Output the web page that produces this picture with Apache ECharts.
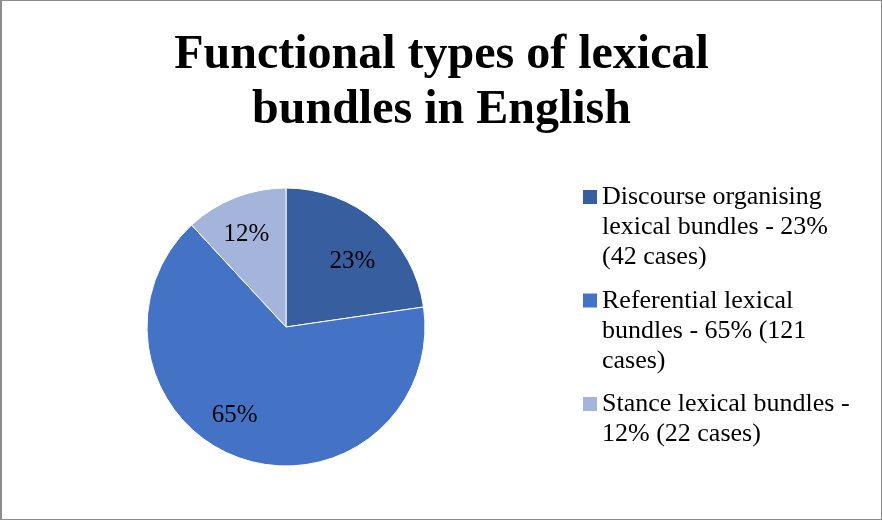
<!DOCTYPE html>
<html>
<head>
<meta charset="utf-8">
<script src="https://cdn.jsdelivr.net/npm/echarts@6/dist/echarts.min.js"></script>
<style>
html,body{margin:0;padding:0;background:#fff;}
#chart{position:absolute;left:0;top:0;width:882px;height:520px;box-sizing:border-box;border:1px solid #8c8c8c;border-left-width:2px;}
</style>
</head>
<body>
<div id="chart"></div>
<script>
var titleLines = ['Functional types of lexical', 'bundles in English'];
var categories = ['Discourse organising lexical bundles', 'Referential lexical bundles', 'Stance lexical bundles'];
var cases = [42, 121, 22];
var percents = [23, 65, 12];
var legendLabels = [
  'Discourse organising\nlexical bundles - 23%\n(42 cases)',
  'Referential lexical\nbundles - 65% (121\ncases)',
  'Stance lexical bundles -\n12% (22 cases)\n'
];
var colors = ['#375E9F', '#4472C4', '#A5B4DA'];
var labelOffsets = [[1, 10], [-18, -6], [-3, 1]];

var FONT = '"Liberation Serif","Times New Roman",serif';
// icon path: square aligned with first text line of a 90px-tall legend item
var iconPath = 'path://M0,0L0,0M0,7.5L14,7.5L14,21.5L0,21.5ZM14,90L14,90';

var data = categories.map(function (c, i) {
  return { name: c, value: cases[i], itemStyle: { color: colors[i] } };
});
var labelData = categories.map(function (c, i) {
  return { name: c, value: cases[i], label: { offset: labelOffsets[i] } };
});

var chart = echarts.init(document.getElementById('chart'), null, { renderer: 'canvas' });
chart.setOption({
  animation: false,
  title: {
    text: titleLines.join('\n'),
    left: 'center',
    top: 27,
    padding: 0,
    textStyle: { fontFamily: FONT, fontWeight: 'bold', fontSize: 48, lineHeight: 55, color: '#000' }
  },
  legend: {
    orient: 'vertical',
    left: 581,
    top: 181.5,
    padding: 0,
    itemWidth: 14,
    itemHeight: 90,
    itemGap: 13.5,
    selectedMode: false,
    itemStyle: { borderWidth: 0 },
    data: categories.map(function (c) { return { name: c, icon: iconPath }; }),
    formatter: function (name) { return legendLabels[categories.indexOf(name)]; },
    textStyle: { fontFamily: FONT, fontSize: 26, lineHeight: 30, color: '#000' }
  },
  series: [
    {
      type: 'pie',
      center: [284, 326],
      radius: [0, 139],
      startAngle: 90,
      clockwise: true,
      silent: true,
      label: { show: false },
      labelLine: { show: false },
      itemStyle: { borderColor: '#ffffff', borderWidth: 1 },
      data: data
    },
    {
      type: 'pie',
      center: [284, 326],
      radius: [55, 139],
      startAngle: 90,
      clockwise: true,
      silent: true,
      legendHoverLink: false,
      itemStyle: { color: 'rgba(0,0,0,0)', borderWidth: 0 },
      label: {
        show: true,
        position: 'inside',
        fontFamily: FONT,
        fontSize: 25,
        color: '#000',
        formatter: function (p) { return percents[p.dataIndex] + '%'; }
      },
      labelLine: { show: false },
      data: labelData
    }
  ]
});
</script>
</body>
</html>
